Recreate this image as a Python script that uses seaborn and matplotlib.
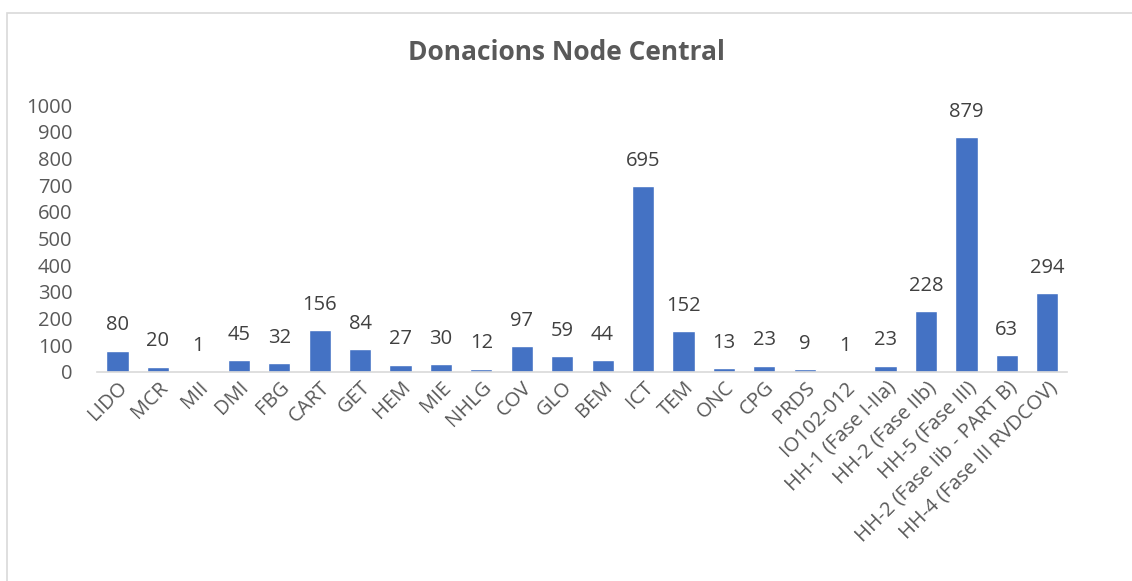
import matplotlib
matplotlib.use("Agg")
import matplotlib.pyplot as plt
import seaborn as sns
import pandas as pd
from matplotlib.patches import Rectangle

categories = ["LIDO", "MCR", "MII", "DMI", "FBG", "CART", "GET", "HEM", "MIE", "NHLG",
              "COV", "GLO", "BEM", "ICT", "TEM", "ONC", "CPG", "PRDS", "IO102-012",
              "HH-1 (Fase I-IIa)", "HH-2 (Fase IIb)", "HH-5 (Fase III)",
              "HH-2 (Fase Iib - PART B)", "HH-4 (Fase III RVDCOV)"]
values = [80, 20, 1, 45, 32, 156, 84, 27, 30, 12, 97, 59, 44, 695, 152, 13, 23, 9, 1,
          23, 228, 879, 63, 294]
yticks = list(range(0, 1001, 100))

sns.set_theme(style="white")
plt.rcParams['font.family'] = ['Open Sans', 'DejaVu Sans']
text_color = "#595959"

df = pd.DataFrame({"cat": categories, "val": values})

fig = plt.figure(figsize=(11.32, 5.81), dpi=100)
ax = fig.add_axes([0.086, 0.36, 0.857, 0.459])
sns.barplot(data=df, x="cat", y="val", color="#4472C4", saturation=1, width=0.55, ax=ax)

ax.set_ylim(0, 1000)
ax.set_yticks(yticks)
ax.set_yticklabels([str(t) for t in yticks], fontsize=14.5, color=text_color)
ax.set_xticks(range(len(categories)))
ax.set_xticklabels(categories, rotation=45, ha="right", rotation_mode="anchor",
                   fontsize=14.5, color=text_color)
ax.tick_params(axis="both", length=0, pad=4)
ax.tick_params(axis="y", pad=18)
ax.set_xlabel("")
ax.set_ylabel("")
for s in ["top", "right", "left"]:
    ax.spines[s].set_visible(False)
ax.spines["bottom"].set_color("#D9D9D9")
ax.spines["bottom"].set_linewidth(1.2)
ax.set_xlim(-0.5, len(categories) - 0.5)

for i, v in enumerate(values):
    ax.annotate(str(v), (i, v), xytext=(0, 11), textcoords="offset points",
                ha="center", va="bottom", fontsize=14.5, color="#404040")

fig.text(0.5, 0.91, "Donacions Node Central", ha="center", va="center",
         fontsize=19, fontweight="bold", color=text_color)

fig.patches.append(Rectangle((0.006, -0.01), 1.0, 0.987, transform=fig.transFigure,
                             fill=False, edgecolor="#D9D9D9", linewidth=1.2))

fig.savefig("out.png", dpi=100)
